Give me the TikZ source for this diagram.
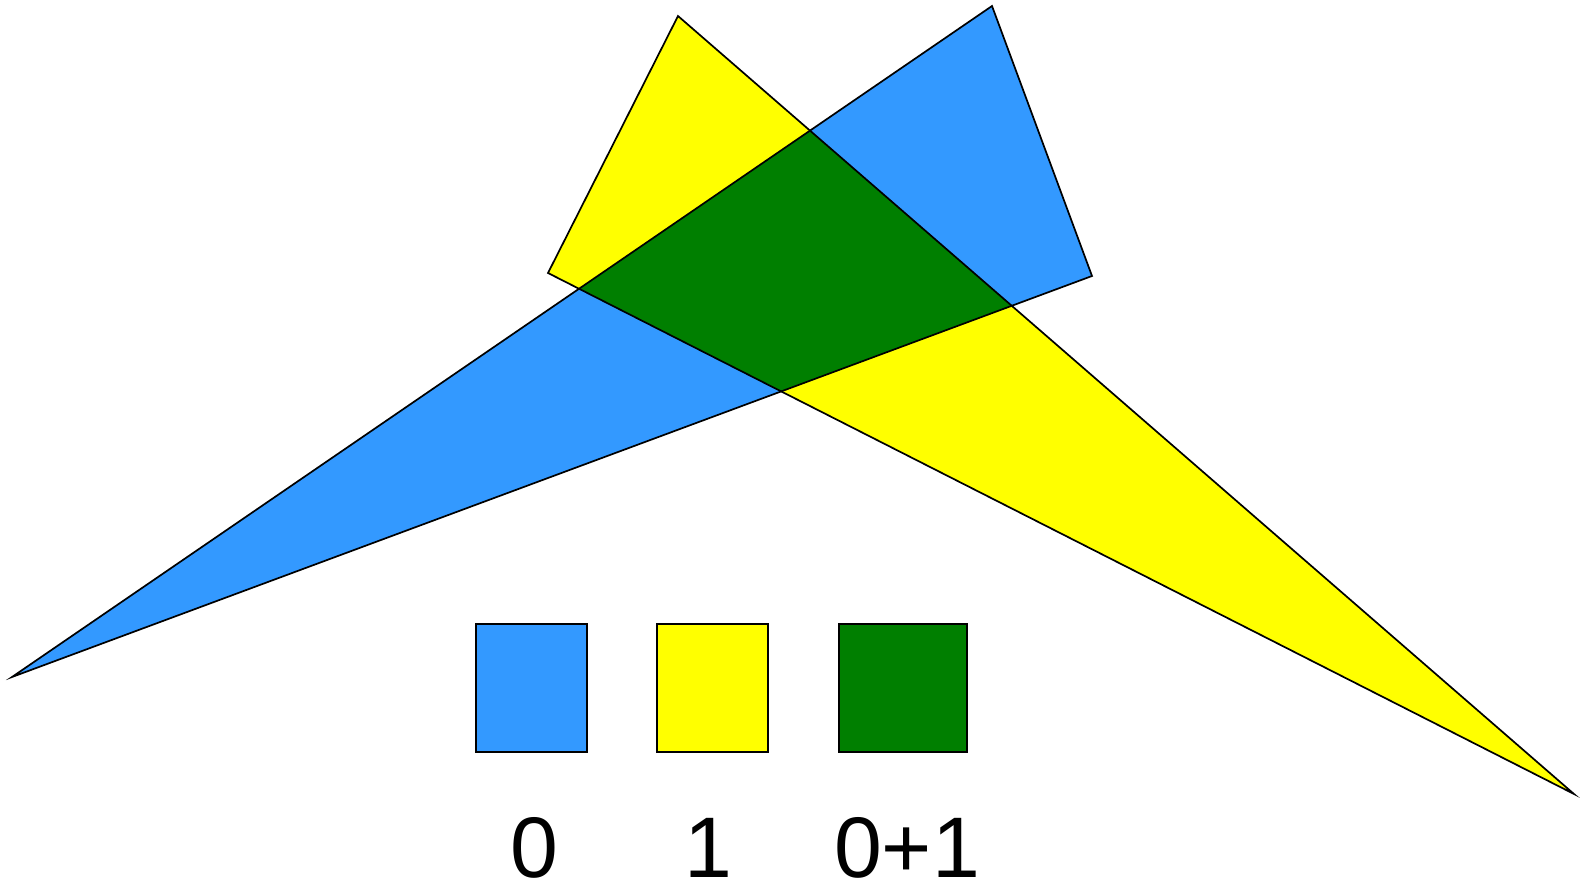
\documentclass[tikz,border=0pt]{standalone}
\usepackage{fontspec}
\setmainfont{Liberation Sans}
\definecolor{cblue}{HTML}{3399FF}
\definecolor{cyellow}{HTML}{FFFF00}
\definecolor{cgreen}{HTML}{007F00}
\begin{document}
\begin{tikzpicture}[x=1pt,y=-1pt,
  edge/.style={draw=black,line width=1.7pt,line join=miter},
  legendbox/.style={draw=black,line width=1.7pt},
  lbl/.style={anchor=base,inner sep=0pt,font=\fontsize{86}{90}\selectfont}]
\useasboundingbox (0,0) rectangle (1582,883);
% vertices
\coordinate (Ya) at (678,16);
\coordinate (Yb) at (548,273);
\coordinate (Yc) at (1574,794);
\coordinate (Ba) at (992,6);
\coordinate (Bb) at (1092,276);
\coordinate (Bc) at (12,677);
% fills
\fill[cblue] (Ba) -- (Bb) -- (Bc) -- cycle;
\fill[cyellow] (Ya) -- (Yb) -- (Yc) -- cycle;
\begin{scope}
  \clip (Ya) -- (Yb) -- (Yc) -- cycle;
  \fill[cgreen] (Ba) -- (Bb) -- (Bc) -- cycle;
\end{scope}
% outlines
\draw[edge] (Ba) -- (Bb) -- (Bc) -- cycle;
\draw[edge] (Ya) -- (Yb) -- (Yc) -- cycle;
% legend
\draw[legendbox,fill=cblue] (476,624) rectangle (587,752);
\draw[legendbox,fill=cyellow] (657,624) rectangle (768,752);
\draw[legendbox,fill=cgreen] (839,624) rectangle (967,752);
\node[lbl] (l0) at (534,877) {0};
\node[lbl] (l1) at (708,877) {1};
\node[lbl] (l2) at (907,877) {0+1};
\end{tikzpicture}
\end{document}
